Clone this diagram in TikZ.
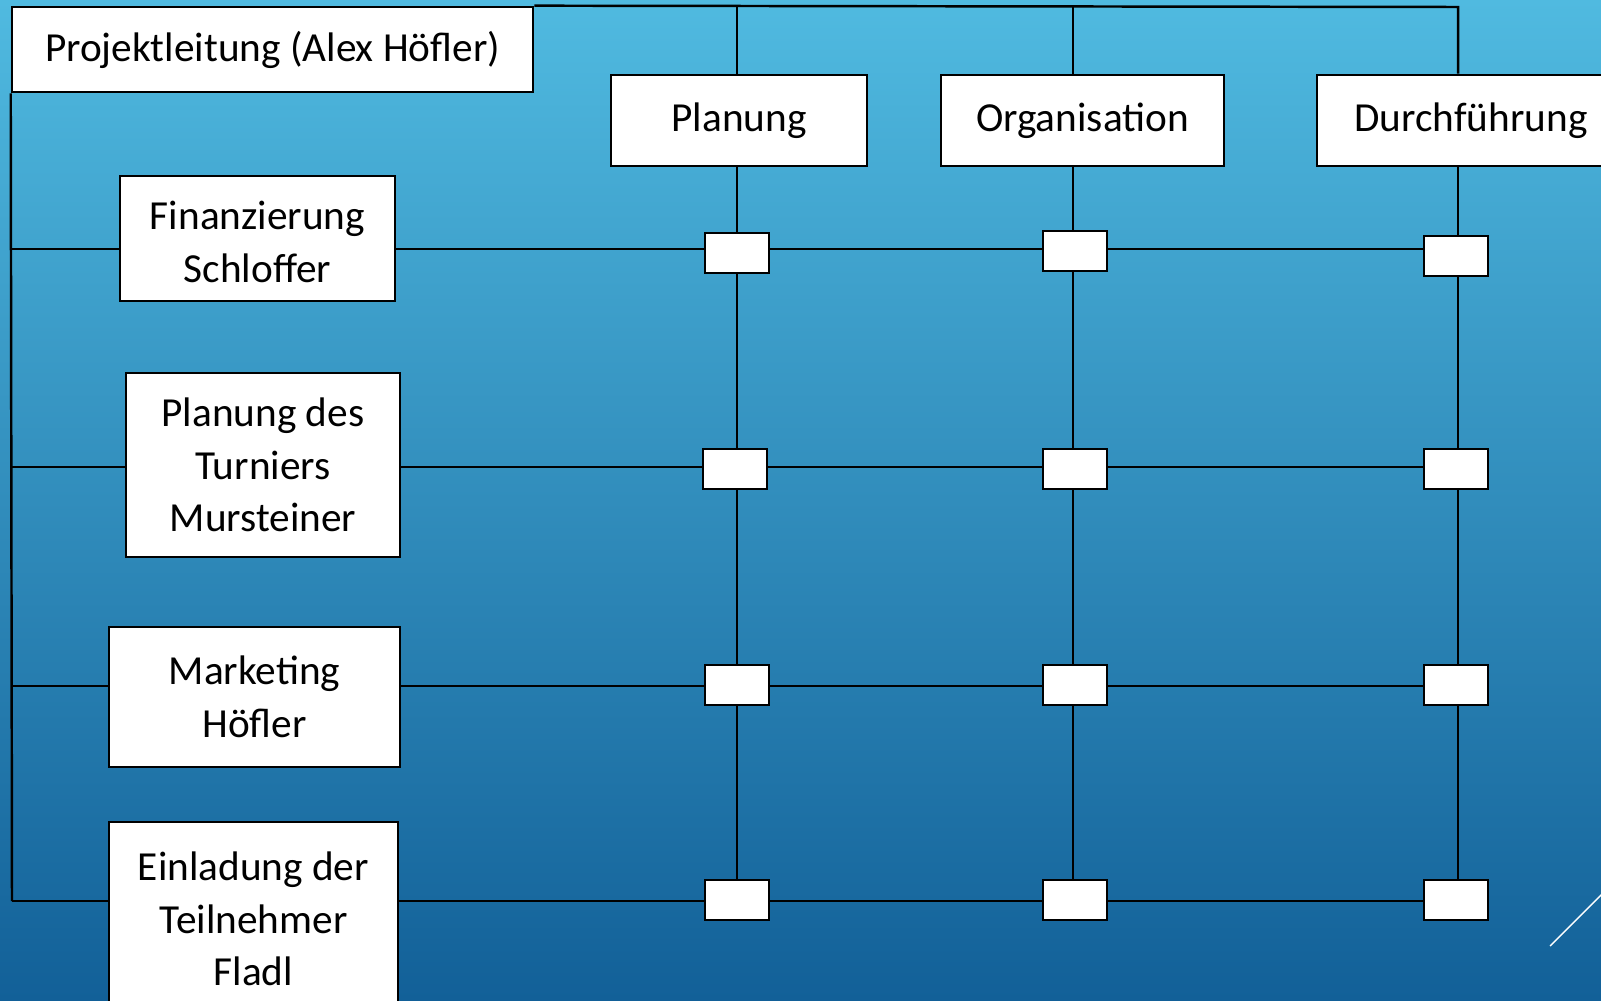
\documentclass[tikz,border=0pt]{standalone}
\usepackage{fontspec}
\setmainfont{Carlito}
\usepackage{xcolor}
\usetikzlibrary{positioning}
\definecolor{bgtop}{RGB}{80,186,224}
\definecolor{bgbot}{RGB}{18,96,152}

\begin{document}
\begin{tikzpicture}[x=0.02cm,y=-0.02cm,
  box/.style={draw=black, line width=1.5pt, fill=white, inner sep=0pt, align=center, font=\fontsize{23.5}{30}\selectfont},
  cell/.style={draw=black, line width=1.6pt, fill=white, minimum width=1.28cm, minimum height=0.8cm, inner sep=0pt},
  wire/.style={black, line width=1.4pt}]
\clip (0,0) rectangle (1601,1000);
\shade[top color=bgtop, bottom color=bgbot] (0,0) rectangle (1601,1000);
\node[box, minimum width=10.42cm, minimum height=1.7cm] (lead) at (272.5,49.5) {Projektleitung (Alex Höfler)};
\node[box, minimum width=5.12cm, minimum height=1.82cm] (planung) at (739,120.5) {Planung};
\node[box, minimum width=5.66cm, minimum height=1.82cm] (orga) at (1082.5,120.5) {Organisation};
\node[box, minimum width=6.16cm, minimum height=1.82cm] (durch) at (1471,120.5) {Durchführung};
\node[box, minimum width=5.5cm, minimum height=2.5cm] (fin) at (257.5,238.5) {\rule{0pt}{20pt}Finanzierung\\Schloffer};
\node[box, minimum width=5.48cm, minimum height=3.68cm] (tur) at (263,465) {Planung des\\Turniers\\Mursteiner};
\node[box, minimum width=5.82cm, minimum height=2.8cm] (mkt) at (254.5,697) {Marketing\\Höfler};
\node[box, minimum width=5.78cm, minimum height=3.88cm] (ein) at (253.5,919) {Einladung der\\Teilnehmer\\Fladl};
\node[cell] (p1) at (737,253) {};
\node[cell] (o1) at (1075,251) {};
\node[cell] (d1) at (1456,256) {};
\node[cell] (p2) at (735,469) {};
\node[cell] (o2) at (1075,469) {};
\node[cell] (d2) at (1456,469) {};
\node[cell] (p3) at (737,685) {};
\node[cell] (o3) at (1075,685) {};
\node[cell] (d3) at (1456,685) {};
\node[cell] (p4) at (737,900) {};
\node[cell] (o4) at (1075,900) {};
\node[cell] (d4) at (1456,900) {};
\coordinate (pTop) at (737,7);
\coordinate (oTop) at (1073,7);
\coordinate (dTop) at (1458,7);
\coordinate (r1) at (12,249);
\coordinate (r2) at (12,467);
\coordinate (r3) at (12,686);
\coordinate (r4) at (12,901);
\draw[wire] (lead.north east) -- (dTop) -- (dTop |- durch.north);
\draw[wire] (pTop) -- (pTop |- planung.north);
\draw[wire] (oTop) -- (oTop |- orga.north);
\draw[wire] (pTop |- planung.south) -- (pTop |- p1.north);
\draw[wire] (oTop |- orga.south) -- (oTop |- o1.north);
\draw[wire] (dTop |- durch.south) -- (dTop |- d1.north);
\draw[wire] (pTop |- p1.south) -- (pTop |- p2.north);
\draw[wire] (pTop |- p2.south) -- (pTop |- p3.north);
\draw[wire] (pTop |- p3.south) -- (pTop |- p4.north);
\draw[wire] (oTop |- o1.south) -- (oTop |- o2.north);
\draw[wire] (oTop |- o2.south) -- (oTop |- o3.north);
\draw[wire] (oTop |- o3.south) -- (oTop |- o4.north);
\draw[wire] (dTop |- d1.south) -- (dTop |- d2.north);
\draw[wire] (dTop |- d2.south) -- (dTop |- d3.north);
\draw[wire] (dTop |- d3.south) -- (dTop |- d4.north);
\draw[wire] (lead.south west) -- (r4);
\draw[wire] (r1) -- (r1 -| fin.west);
\draw[wire] (r2) -- (r2 -| tur.west);
\draw[wire] (r3) -- (r3 -| mkt.west);
\draw[wire] (r4) -- (r4 -| ein.west);
\draw[wire] (r1 -| fin.east) -- (r1 -| p1.west);
\draw[wire] (r1 -| p1.east) -- (r1 -| o1.west);
\draw[wire] (r1 -| o1.east) -- (r1 -| d1.west);
\draw[wire] (r2 -| tur.east) -- (r2 -| p2.west);
\draw[wire] (r2 -| p2.east) -- (r2 -| o2.west);
\draw[wire] (r2 -| o2.east) -- (r2 -| d2.west);
\draw[wire] (r3 -| mkt.east) -- (r3 -| p3.west);
\draw[wire] (r3 -| p3.east) -- (r3 -| o3.west);
\draw[wire] (r3 -| o3.east) -- (r3 -| d3.west);
\draw[wire] (r4 -| ein.east) -- (r4 -| p4.west);
\draw[wire] (r4 -| p4.east) -- (r4 -| o4.west);
\draw[wire] (r4 -| o4.east) -- (r4 -| d4.west);
\draw[white, line width=0.8pt] (1550,946) -- (1660,836);
\end{tikzpicture}
\end{document}
